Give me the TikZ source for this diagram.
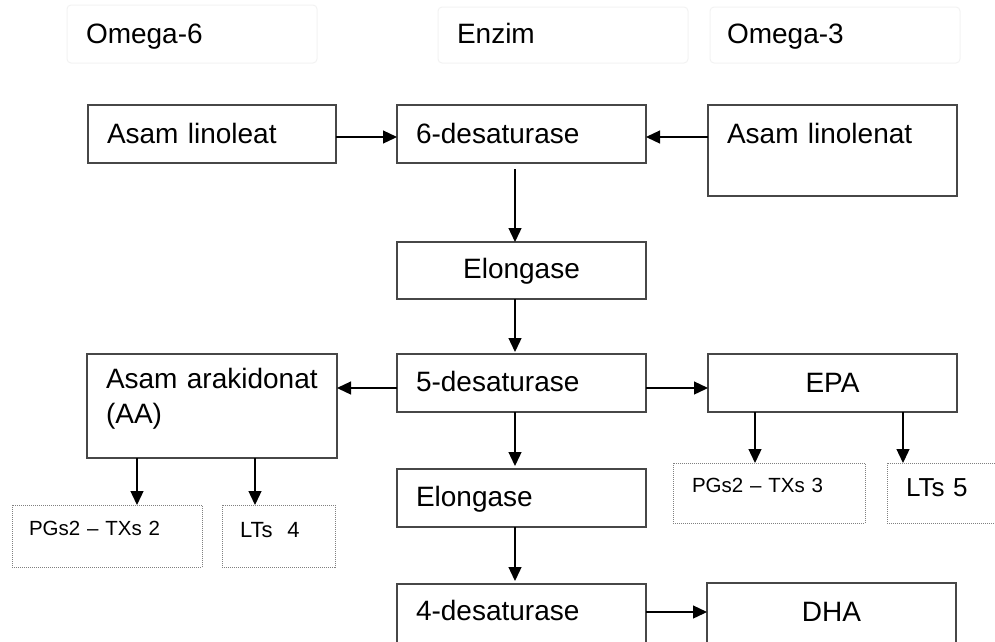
\documentclass[tikz,border=0pt]{standalone}
\usepackage{fontspec}
\setmainfont{Liberation Sans}
\usetikzlibrary{arrows.meta,calc}

\tikzset{
  mainbox/.style={draw=black!72, line width=1.4pt, outer sep=0pt, anchor=north west,
    align=left, inner xsep=19pt, text height=20pt, font=\fontsize{28}{35}\selectfont},
  cenbox/.style={mainbox, align=center},
  dotbox/.style={draw=black!50, line width=1pt, dash pattern=on 1pt off 1pt,
    outer sep=0pt, anchor=north west, align=left},
  headbox/.style={draw=black!5, line width=1pt, rounded corners=4pt, outer sep=0pt,
    anchor=north west, align=left, inner xsep=19pt, text height=20pt,
    font=\fontsize{28}{35}\selectfont},
  arr/.style={-{Triangle[length=14pt,width=13pt]}, line width=1.3pt, black},
}

\begin{document}
\begin{tikzpicture}[x=1pt,y=-1pt]
\useasboundingbox (0,0) rectangle (995,641);

% column headings
\node[headbox, text width=212pt, inner ysep=18pt, text depth=2pt] (om6) at (67,5) {Omega-6};
\node[headbox, text width=212pt, inner ysep=16pt, text depth=4pt] (enz) at (438,7) {Enzim};
\node[headbox, inner xsep=17pt, text width=216pt, inner ysep=16pt, text depth=4pt] (om3) at (710,7) {Omega-3};

% main boxes
\node[mainbox, text width=210pt, inner ysep=18pt, text depth=2pt] (lin) at (88,105) {Asam linoleat};
\node[mainbox, text width=211pt, inner ysep=18pt, text depth=2pt] (six) at (397,105) {6-desaturase};
\node[mainbox, text width=211pt, inner ysep=18pt, text depth=35pt] (lnn) at (708,105) {Asam linolenat};
\node[cenbox, text width=211pt, inner ysep=16pt, text depth=5pt] (elo1) at (397,242) {Elongase};
\node[mainbox, text width=211pt, inner ysep=17pt, text depth=4pt] (five) at (397,354) {5-desaturase};
\node[mainbox, text width=212pt, inner ysep=14pt, text depth=56pt] (aa) at (87,354) {Asam arakidonat\\(AA)};
\node[cenbox, text width=211pt, inner ysep=18pt, text depth=2pt] (epa) at (708,354) {EPA};
\node[mainbox, text width=211pt, inner ysep=17pt, text depth=4pt] (elo2) at (397,469) {Elongase};
\node[mainbox, text width=211pt, inner ysep=16pt, text depth=10pt] (four) at (397,584) {4-desaturase};
\node[cenbox, text width=211pt, inner ysep=18pt, text depth=7pt] (dha) at (707,583) {DHA};

% eicosanoid boxes
\node[dotbox, inner xsep=17pt, text width=156pt, inner ysep=15pt, text height=15pt, text depth=17pt,
  font=\fontsize{20.5}{24}\selectfont] (pg2) at (12,505) {PGs2 – TXs 2};
\node[dotbox, inner xsep=18pt, text width=77pt, inner ysep=16pt, text height=16pt, text depth=14pt,
  font=\fontsize{22}{26}\selectfont] (lt4) at (222,505) {LTs~~4};
\node[dotbox, inner xsep=19pt, text width=154pt, inner ysep=14pt, text height=15pt, text depth=17pt,
  font=\fontsize{20.5}{24}\selectfont] (pg3) at (673,463) {PGs2 – TXs 3};
\node[dotbox, inner xsep=19pt, text width=75pt, inner ysep=14pt, text height=19pt, text depth=13pt,
  font=\fontsize{26}{30}\selectfont] (lt5) at (887,463) {LTs 5};

% guide positions for the connectors
\coordinate (c0) at (515,0);
\coordinate (c1) at (137,0);
\coordinate (c2) at (255,0);
\coordinate (c3) at (755,0);
\coordinate (c4) at (903,0);
\coordinate (r1) at (0,137);
\coordinate (r2) at (0,388);
\coordinate (r3) at (0,612);

% connectors
\draw[arr] (lin.east |- r1) -- (six.west |- r1);
\draw[arr] (lnn.west |- r1) -- (six.east |- r1);
\draw[arr, shorten <=6pt] (six.south -| c0) -- (elo1.north -| c0);
\draw[arr, shorten >=2pt] (elo1.south -| c0) -- (five.north -| c0);
\draw[arr] (five.west |- r2) -- (aa.east |- r2);
\draw[arr] (five.east |- r2) -- (epa.west |- r2);
\draw[arr, shorten >=3pt] (five.south -| c0) -- (elo2.north -| c0);
\draw[arr, shorten >=3pt] (elo2.south -| c0) -- (four.north -| c0);
\draw[arr] (four.east |- r3) -- (dha.west |- r3);
\draw[arr] (aa.south -| c1) -- (pg2.north -| c1);
\draw[arr] (aa.south -| c2) -- (lt4.north -| c2);
\draw[arr] (epa.south -| c3) -- (pg3.north -| c3);
\draw[arr] (epa.south -| c4) -- (lt5.north -| c4);
\end{tikzpicture}
\end{document}
